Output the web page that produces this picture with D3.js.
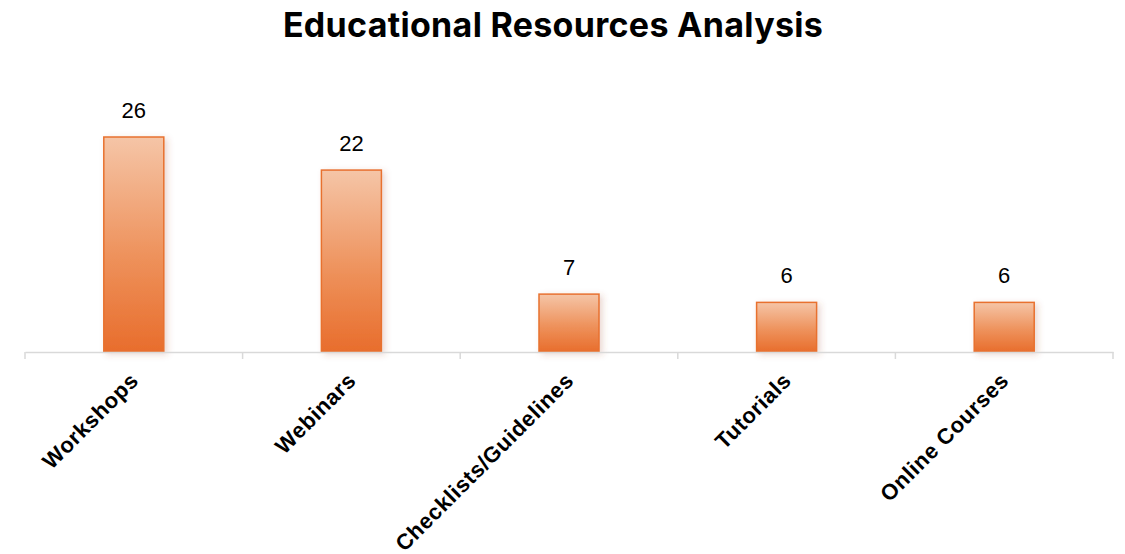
<!DOCTYPE html>
<html>
<head>
<meta charset="utf-8">
<script src="https://cdn.jsdelivr.net/npm/d3@7"></script>
<style>
  html, body { margin: 0; padding: 0; background: #fff; }
  svg { display: block; }
</style>
</head>
<body>
<svg id="chart" width="1125" height="554"></svg>
<script>
const categories = ["Workshops", "Webinars", "Checklists/Guidelines", "Tutorials", "Online Courses"];
const values = [26, 22, 7, 6, 6];
const title = "Educational Resources Analysis";

const W = 1125, H = 554;
const margin = { left: 25, right: 12, top: 137, bottom: 202 };
const plotBottom = H - margin.bottom;          // baseline of the bars
const svg = d3.select("#chart");

const x = d3.scaleBand()
  .domain(categories)
  .range([margin.left, W - margin.right])
  .paddingInner(0)
  .paddingOuter(0);

const y = d3.scaleLinear()
  .domain([0, 26])
  .range([plotBottom, margin.top]);

const defs = svg.append("defs");
const grad = defs.append("linearGradient")
  .attr("id", "barGrad")
  .attr("x1", 0).attr("y1", 0).attr("x2", 0).attr("y2", 1);
grad.append("stop").attr("offset", "0%").attr("stop-color", "#f5c5a7");
grad.append("stop").attr("offset", "55%").attr("stop-color", "#ee925c");
grad.append("stop").attr("offset", "100%").attr("stop-color", "#e86d2c");

const shadow = defs.append("filter")
  .attr("id", "barShadow")
  .attr("x", "-30%").attr("y", "-10%").attr("width", "170%").attr("height", "130%");
shadow.append("feDropShadow")
  .attr("dx", 3).attr("dy", 2).attr("stdDeviation", 3)
  .attr("flood-color", "#a05030").attr("flood-opacity", 0.22);

// Title
svg.append("text")
  .attr("x", 553).attr("y", 37)
  .attr("text-anchor", "middle")
  .attr("font-family", "Inter, 'Open Sans', sans-serif")
  .attr("font-weight", 700)
  .attr("font-size", 34)
  .attr("letter-spacing", "0.3px")
  .attr("fill", "#000")
  .text(title);

const barW = 60;

// Bars
svg.append("g").selectAll("rect")
  .data(categories)
  .join("rect")
  .attr("x", (d) => x(d) + x.bandwidth() / 2 - barW / 2)
  .attr("y", (d, i) => y(values[i]))
  .attr("width", barW)
  .attr("height", (d, i) => plotBottom - y(values[i]))
  .attr("fill", "url(#barGrad)")
  .attr("stroke", "#e8712f")
  .attr("stroke-width", 1.5)
  .attr("filter", "url(#barShadow)");

// Value labels
svg.append("g").selectAll("text")
  .data(categories)
  .join("text")
  .attr("x", (d) => x(d) + x.bandwidth() / 2)
  .attr("y", (d, i) => y(values[i]) - 19)
  .attr("text-anchor", "middle")
  .attr("font-family", "'Liberation Sans', Arial, sans-serif")
  .attr("font-size", 22)
  .attr("fill", "#000")
  .text((d, i) => values[i]);

// X axis
const axis = svg.append("g")
  .attr("transform", `translate(0,${plotBottom})`)
  .call(d3.axisBottom(x).tickSize(0).tickFormat(""));
axis.select(".domain").attr("stroke", "#d9d9d9").attr("stroke-width", 1.5);

// Band boundary ticks
const boundaries = categories.map((d) => x(d)).concat([x.range()[1]]);
svg.append("g").selectAll("line")
  .data(boundaries)
  .join("line")
  .attr("x1", (d) => d).attr("x2", (d) => d)
  .attr("y1", plotBottom).attr("y2", plotBottom + 7)
  .attr("stroke", "#d9d9d9").attr("stroke-width", 1.5);

// Category labels, rotated
svg.append("g").selectAll("text")
  .data(categories)
  .join("text")
  .attr("transform", (d) => `translate(${x(d) + x.bandwidth() / 2 + 6},${plotBottom + 30}) rotate(-45)`)
  .attr("text-anchor", "end")
  .attr("font-family", "'Liberation Sans', Arial, sans-serif")
  .attr("font-weight", 700)
  .attr("font-size", 22)
  .attr("letter-spacing", "0.6px")
  .attr("fill", "#000")
  .text((d) => d);
</script>
</body>
</html>
